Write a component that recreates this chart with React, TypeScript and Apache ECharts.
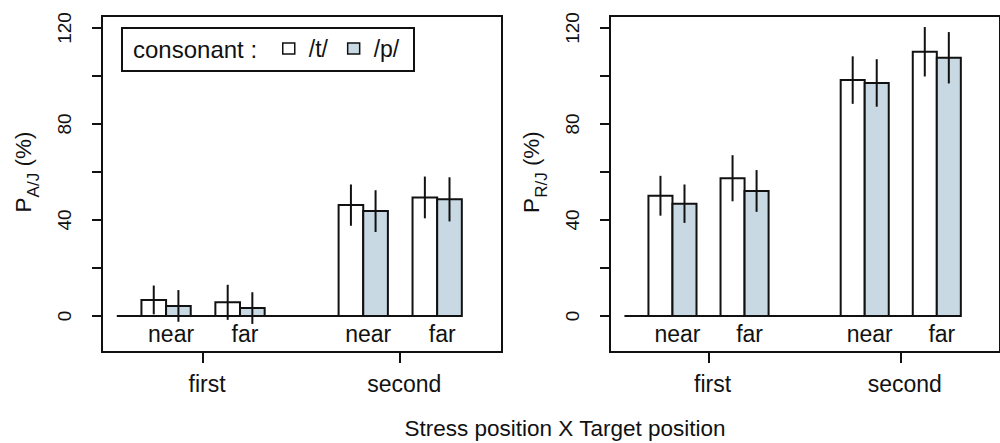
import React, { useEffect, useRef } from 'react';
import * as echarts from 'echarts';

// ---- data ----
const groups = ['first', 'second'];
const targets = ['near', 'far', 'near', 'far'];
const consonants = ['/t/', '/p/'];
const yTicks = [0, 20, 40, 60, 80, 100, 120];
const yLabels = [0, 40, 80, 120];

// P_A/J (%)
const ajT = [6.7, 5.7, 46.2, 49.4];
const ajTErr = [6.0, 7.3, 8.6, 8.7];
const ajP = [4.2, 3.3, 43.7, 48.6];
const ajPErr = [6.6, 6.6, 8.7, 9.2];
// P_R/J (%)
const rjT = [50.1, 57.4, 98.3, 110.1];
const rjTErr = [8.3, 9.6, 9.9, 10.3];
const rjP = [46.8, 52.1, 97.1, 107.6];
const rjPErr = [8.0, 8.7, 9.9, 10.7];

const FONT = 'Liberation Sans, Arial, Helvetica, sans-serif';
const INK = '#111111';
const FILLS = ['#ffffff', '#c8d9e4'];

// bar-unit layout (R barplot style): 1 gap inside group, 3 gap between groups
const pairStart = (i: number) => 1 + 3 * i + (i >= 2 ? 2 : 0);
const groupCenters = groups.map((_, g) => pairStart(2 * g) + 2.5);

function buildPanel(p: number, tVals: number[], tErr: number[], pVals: number[], pErr: number[]) {
  const vals = [tVals, pVals];
  const errs = [tErr, pErr];
  const series: any[] = [];
  series.push({
    type: 'line',
    xAxisIndex: p,
    yAxisIndex: p,
    data: [[0, 0], [pairStart(3) + 2, 0]],
    symbol: 'none',
    silent: true,
    lineStyle: { color: INK, width: 2 },
    z: 1,
  });
  consonants.forEach((name, c) => {
    const fill = FILLS[c];
    series.push({
      type: 'custom',
      name,
      xAxisIndex: p,
      yAxisIndex: p,
      itemStyle: { color: fill, borderColor: INK, borderWidth: 1.5 },
      data: vals[c].map((v, i) => [pairStart(i) + c, v]),
      encode: { x: 0, y: 1 },
      z: 2,
      renderItem: (params: any, api: any) => {
        const x = api.value(0);
        const v = api.value(1);
        const a = api.coord([x, 0]);
        const b = api.coord([x + 1, v]);
        return {
          type: 'rect',
          shape: { x: a[0], y: b[1], width: b[0] - a[0], height: a[1] - b[1] },
          style: { fill, stroke: INK, lineWidth: 2 },
        };
      },
    });
  });
  consonants.forEach((name, c) => {
    series.push({
      type: 'custom',
      xAxisIndex: p,
      yAxisIndex: p,
      silent: true,
      data: vals[c].map((v, i) => [pairStart(i) + c + 0.5, v, errs[c][i]]),
      encode: { x: 0, y: 1 },
      z: 3,
      renderItem: (params: any, api: any) => {
        const x = api.value(0);
        const v = api.value(1);
        const e = api.value(2);
        const a = api.coord([x, v - e]);
        const b = api.coord([x, v + e]);
        return {
          type: 'line',
          shape: { x1: a[0], y1: a[1], x2: b[0], y2: b[1] },
          style: { stroke: INK, lineWidth: 2 },
        };
      },
    });
  });
  series.push({
    type: 'custom',
    xAxisIndex: p,
    yAxisIndex: p,
    silent: true,
    clip: false,
    data: targets.map((_, i) => [pairStart(i) + 1, 0]),
    encode: { x: 0, y: 1 },
    z: 3,
    renderItem: (params: any, api: any) => {
      const pt = api.coord([api.value(0), 0]);
      return {
        type: 'text',
        x: pt[0] + 5,
        y: pt[1] + 6,
        style: {
          text: targets[params.dataIndex],
          fontSize: 23,
          fontFamily: FONT,
          fill: INK,
          align: 'center',
          verticalAlign: 'top',
        },
      };
    },
  });
  return series;
}

const gridLefts = [102, 610];
const yNames = [
  '{p|P}{s|A/J}{p| (%)}',
  '{p|P}{s|R/J}{p| (%)}',
];

export default function App() {
  const ref = useRef<HTMLDivElement>(null);
  useEffect(() => {
    if (!ref.current) return;
    const chart = echarts.init(ref.current, null, { renderer: 'svg' });
    const option: any = {
      animation: false,
      backgroundColor: '#ffffff',
      textStyle: { fontFamily: FONT, color: INK },
      grid: gridLefts.map((left) => ({
        left,
        top: 16,
        width: 400,
        height: 336,
        show: true,
        borderColor: INK,
        borderWidth: 2,
        backgroundColor: 'transparent',
      })),
      xAxis: gridLefts.map((_, i) => ({
        type: 'value',
        gridIndex: i,
        position: 'bottom',
        min: -0.6,
        max: 15.63,
        axisLine: { show: false, onZero: false },
        splitLine: { show: false },
        axisTick: {
          show: true,
          customValues: groupCenters,
          length: 11,
          lineStyle: { color: INK, width: 2 },
        },
        axisLabel: {
          customValues: groupCenters,
          formatter: (v: number) => groups[groupCenters.indexOf(v)] ?? '',
          fontSize: 23,
          fontFamily: FONT,
          color: INK,
          margin: 20,
          padding: [0, 0, 0, 8],
        },
      })),
      yAxis: gridLefts.map((_, i) => ({
        type: 'value',
        gridIndex: i,
        position: 'left',
        min: -15,
        max: 125,
        axisLine: { show: false, onZero: false },
        splitLine: { show: false },
        axisTick: {
          show: true,
          customValues: yTicks,
          length: 10,
          lineStyle: { color: INK, width: 2 },
        },
        axisLabel: {
          customValues: yLabels,
          rotate: 90,
          fontSize: 19,
          fontFamily: FONT,
          color: INK,
          margin: 28,
        },
        name: yNames[i],
        nameLocation: 'middle',
        nameRotate: 90,
        nameGap: 60,
        nameTextStyle: {
          padding: [0, 0, 0, 24],
          rich: {
            p: { fontSize: 22.5, fontFamily: FONT, color: INK, lineHeight: 30, verticalAlign: 'top' },
            s: { fontSize: 17, fontFamily: FONT, color: INK, lineHeight: 17, verticalAlign: 'bottom' },
          },
        },
      })),
      legend: {
        show: true,
        left: 282,
        top: 37,
        padding: 0,
        itemWidth: 12,
        itemHeight: 11,
        itemGap: 19,
        selectedMode: false,
        textStyle: { fontSize: 23, fontFamily: FONT, color: INK, padding: [0, 0, 0, 9] },
        data: consonants.map((name, c) => ({
          name,
          icon: 'rect',
          itemStyle: { color: FILLS[c], borderColor: INK, borderWidth: 1.5 },
        })),
      },
      graphic: [
        {
          type: 'rect',
          shape: { x: 122, y: 28, width: 292, height: 43 },
          style: { fill: 'transparent', stroke: INK, lineWidth: 2 },
          z: 10,
        },
        {
          type: 'text',
          x: 133,
          y: 49,
          style: {
            text: 'consonant :',
            fontSize: 24,
            fontFamily: FONT,
            fill: INK,
            verticalAlign: 'middle',
          },
          z: 10,
        },
        {
          type: 'text',
          x: 565,
          y: 428,
          style: {
            text: 'Stress position X Target position',
            fontSize: 22.5,
            fontFamily: FONT,
            fill: INK,
            align: 'center',
            verticalAlign: 'middle',
          },
        },
      ],
      series: [
        ...buildPanel(0, ajT, ajTErr, ajP, ajPErr),
        ...buildPanel(1, rjT, rjTErr, rjP, rjPErr),
      ],
    };
    chart.setOption(option);
    return () => chart.dispose();
  }, []);
  return (
    <div
      ref={ref}
      style={{ position: 'fixed', left: 0, top: 0, width: 1000, height: 443, background: '#fff' }}
    />
  );
}
